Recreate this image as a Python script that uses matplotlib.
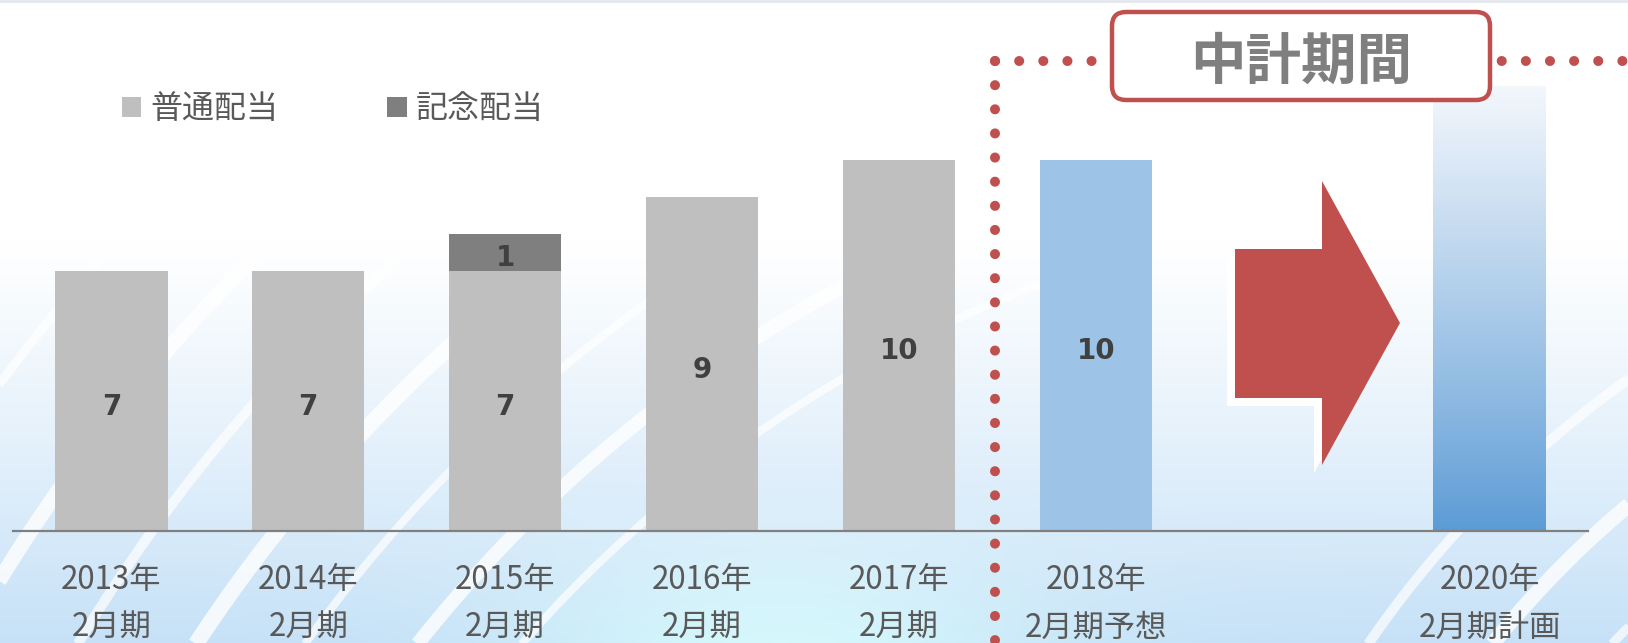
import numpy as np
import matplotlib
matplotlib.use('Agg')
import matplotlib.pyplot as plt
from matplotlib.patches import FancyBboxPatch, Polygon
from matplotlib.colors import LinearSegmentedColormap

plt.rcParams['font.family'] = ['Noto Sans CJK JP', 'DejaVu Sans']

# データ（1株当たり配当, 円）
years = ['2013年', '2014年', '2015年', '2016年', '2017年', '2018年', '', '2020年']
periods = ['2月期', '2月期', '2月期', '2月期', '2月期', '2月期予想', '', '2月期計画']
actual_pos = [0, 1, 2, 3, 4]
regular = [7, 7, 7, 9, 10]
commemorative = [0, 0, 1, 0, 0]
forecast_pos = [5]
forecast = [10]
plan_pos = [7]
plan = [12]

GRAY = '#BFBFBF'
DARK = '#7F7F7F'
BLUE = '#9DC3E6'
RED = '#C0504D'
TXT = '#595959'

W, H = 1628, 643
fig = plt.figure(figsize=(W / 100, H / 100), dpi=100)

# 背景（白→淡い青のグラデーション + 白い波）
bg = fig.add_axes([0, 0, 1, 1], zorder=0)
ys = np.arange(H)[:, None]
xs = np.arange(W)[None, :]
t = np.clip((ys - 240) / (H - 240), 0, 1) ** 1.1
glow = np.exp(-((xs - 780) / 260.0) ** 2) * np.clip((ys - 480) / 160, 0, 1)
bot = np.array([198, 225, 247]) / 255
cyan = np.array([212, 248, 252]) / 255
base = bot * (1 - glow[..., None]) + cyan * glow[..., None]
img = 1.0 * (1 - t[..., None]) + base * t[..., None]
bg.imshow(np.clip(img, 0, 1), extent=(0, W, H, 0), aspect='auto')

phi = np.linspace(0, np.pi / 2, 300)
for r, lw, a in [(1300, 8, 0.7), (1380, 14, 0.8), (1470, 8, 0.7), (1560, 16, 0.8),
                 (1660, 10, 0.7), (1760, 15, 0.8), (1870, 9, 0.7), (1980, 14, 0.8)]:
    bg.plot(1500 - r * np.cos(phi), 1500 - r * np.sin(phi), color='white',
            lw=lw * 0.72, alpha=a, solid_capstyle='butt')
for r, lw, a in [(700, 10, 0.7), (790, 14, 0.8), (880, 9, 0.7), (970, 15, 0.8),
                 (1070, 10, 0.7)]:
    bg.plot(2250 - r * np.cos(phi), 1250 - r * np.sin(phi), color='white',
            lw=lw * 0.72, alpha=a, solid_capstyle='butt')
bg.set_xlim(0, W)
bg.set_ylim(H, 0)
bg.axis('off')
bg.plot([0, W], [1, 1], color='#E3E8EE', lw=2)

# メインのグラフ
unit = 37.1
ax = fig.add_axes([13 / W, 112 / H, 1575 / W, 531 / H], zorder=1)
ax.patch.set_alpha(0)
bw = 0.57

b_reg = ax.bar(actual_pos, regular, width=bw, color=GRAY, label='普通配当')
b_com = ax.bar(actual_pos, commemorative, width=bw, bottom=regular,
               color=DARK, label='記念配当')
b_fc = ax.bar(forecast_pos, forecast, width=bw, color=BLUE)
b_plan = ax.bar(plan_pos, plan, width=bw, color='none')

# 2020年計画のグラデーション
cmap = LinearSegmentedColormap.from_list('plan', ['#5B9BD5', '#A6C8E8', '#F3F7FC'])
for p in b_plan:
    x0, w = p.get_x(), p.get_width()
    grad = np.linspace(0, 1, 256)[:, None] ** 0.9
    im = ax.imshow(grad, cmap=cmap, origin='lower', aspect='auto',
                   extent=(x0, x0 + w, 0, p.get_height()), zorder=2)
    im.set_clip_path(p)


def value_labels(container, values):
    for p, v in zip(container, values):
        if not v:
            continue
        ax.annotate(str(v), (p.get_x() + p.get_width() / 2, p.get_y() + p.get_height() / 2),
                    xytext=(0, -4), textcoords='offset points', ha='center', va='center',
                    fontsize=20, fontweight='bold', color='#404040', family='DejaVu Sans')


value_labels(b_reg, regular)
value_labels(b_com, commemorative)
value_labels(b_fc, forecast)

ax.set_xlim(-0.5, 7.5)
ax.set_ylim(0, 531 / unit)
for s in ['top', 'right', 'left']:
    ax.spines[s].set_visible(False)
ax.spines['bottom'].set_color('#808080')
ax.spines['bottom'].set_linewidth(1.6)
ax.set_yticks([])
ax.set_xticks([])

for i, (yl, pl) in enumerate(zip(years, periods)):
    ax.annotate(yl, (i, 0), xycoords=('data', 'axes fraction'), xytext=(0, -35),
                textcoords='offset points', ha='center', va='center',
                fontsize=22.5, color=TXT)
    ax.annotate(pl, (i, 0), xycoords=('data', 'axes fraction'), xytext=(0, -70),
                textcoords='offset points', ha='center', va='center',
                fontsize=22.5, color=TXT)

fs = 23
ax.legend(handles=[b_reg, b_com], ncol=2, frameon=False, fontsize=fs,
          loc='center left', bbox_to_anchor=(122 / W, 1 - 109 / H),
          bbox_transform=fig.transFigure, borderpad=0, borderaxespad=0,
          handlelength=0.6, handleheight=0.58, handletextpad=0.3,
          columnspacing=3.4, labelcolor=TXT)

# 装飾（点線・中計期間の枠・矢印）
deco = fig.add_axes([0, 0, 1, 1], zorder=3)
deco.set_xlim(0, W)
deco.set_ylim(H, 0)
deco.axis('off')
dot_lw = 7.2
dot_kw = dict(color=RED, lw=dot_lw, dashes=(0.01, 17.3 / dot_lw),
              dash_capstyle='round', zorder=2)
deco.plot([995, 995], [61, H + 10], **dot_kw)
deco.plot([995, W + 10], [61, 61], **dot_kw)

box = FancyBboxPatch((1112, 12), 378, 88, boxstyle='round,pad=0,rounding_size=14',
                     facecolor='white', edgecolor=RED, lw=3.2, zorder=5)
deco.add_patch(box)
deco.text(1301, 63, '中計期間', ha='center', va='center', fontsize=40,
          fontweight='bold', color=DARK, zorder=6)

arrow = np.array([[1235, 249], [1322, 249], [1322, 181], [1400, 323],
                  [1322, 465], [1322, 398], [1235, 398]])
deco.add_patch(Polygon(arrow + [-8, 8], closed=True, facecolor='white', edgecolor='none'))
deco.add_patch(Polygon(arrow, closed=True, facecolor=RED, edgecolor='none'))

fig.savefig('out.png', dpi=100)
